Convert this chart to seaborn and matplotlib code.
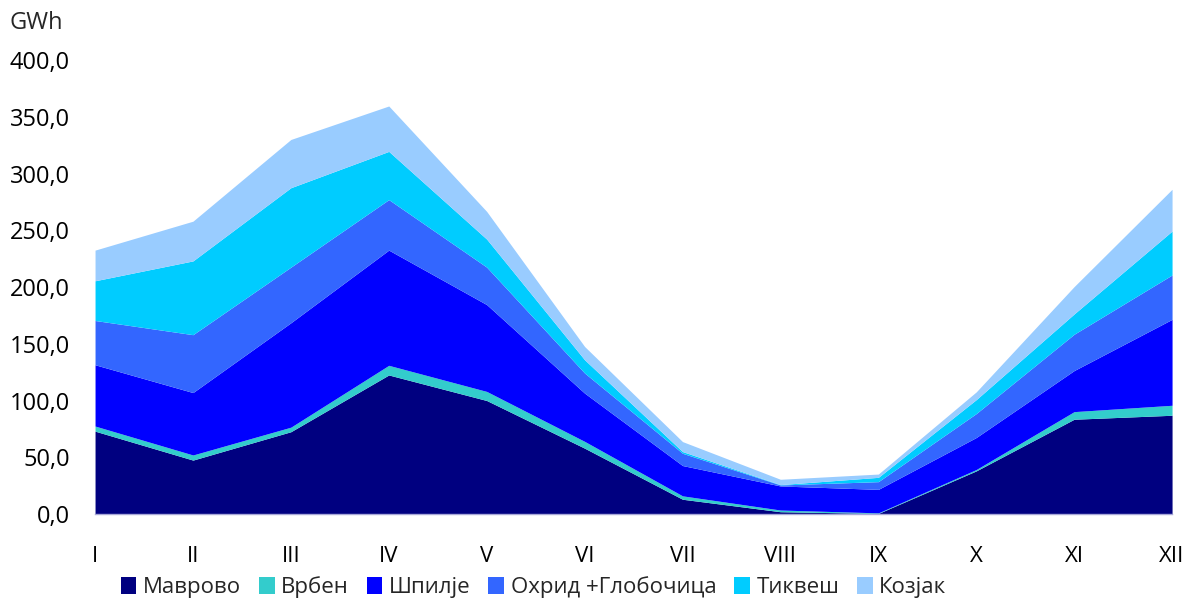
import numpy as np
import matplotlib
matplotlib.use("Agg")
import matplotlib.pyplot as plt
from matplotlib.patches import Patch
import seaborn as sns

# DATA (GWh per month)
months = ["I", "II", "III", "IV", "V", "VI", "VII", "VIII", "IX", "X", "XI", "XII"]
mavrovo = [73.0, 47.5, 72.5, 122.5, 100.0, 58.0, 13.0, 2.0, 0.5, 38.0, 83.5, 87.0]
vrben = [4.5, 4.5, 4.0, 8.5, 8.0, 6.0, 3.0, 1.5, 0.5, 1.2, 6.7, 8.8]
shpilje = [54.0, 55.0, 92.0, 101.5, 76.5, 42.5, 26.7, 21.2, 20.7, 28.2, 36.2, 75.7]
ohrid = [39.0, 51.0, 49.0, 44.5, 33.0, 17.7, 10.8, 0.9, 6.8, 21.1, 32.0, 39.1]
tikvesh = [35.0, 65.0, 70.0, 42.5, 24.7, 11.7, 1.5, 0.3, 3.8, 12.3, 17.9, 38.7]
kozjak = [27.0, 35.0, 42.5, 40.0, 24.4, 11.7, 8.8, 4.7, 2.9, 6.8, 24.1, 36.8]

series_names = ["Маврово", "Врбен", "Шпилје", "Охрид +Глобочица", "Тиквеш", "Козјак"]
colors = ["#000080", "#33CCCC", "#0000FF", "#3366FF", "#00CCFF", "#99CCFF"]

sns.set_style("white")
plt.rcParams["font.family"] = ["Open Sans", "DejaVu Sans"]

fig = plt.figure(figsize=(11.91, 5.99), dpi=100)
ax = fig.add_axes([0.0798, 0.1419, 0.9043, 0.7579])

x = np.arange(len(months))
ax.stackplot(x, mavrovo, vrben, shpilje, ohrid, tikvesh, kozjak,
             colors=sns.color_palette(colors), linewidth=0)

ax.set_xlim(0, len(months) - 1)
ax.set_ylim(0, 400)
ax.set_yticks(np.arange(0, 401, 50))
ax.set_yticklabels([f"{v:.1f}".replace(".", ",") for v in np.arange(0, 401, 50)])
ax.set_xticks(x)
ax.set_xticklabels(months)

for side in ["top", "right", "left"]:
    ax.spines[side].set_visible(False)
ax.spines["bottom"].set_color("#A8A8D8")
ax.spines["bottom"].set_linewidth(1)
ax.tick_params(axis="y", length=0, pad=18, labelsize=17, colors="black")
ax.tick_params(axis="x", length=3, color="#A8A8D8", pad=20, labelsize=16, colors="black")

fig.text(0.008, 0.962, "GWh", fontsize=17, va="center", ha="left")

handles = [Patch(facecolor=c, edgecolor="none") for c in colors]
fig.legend(handles, series_names, loc="center", bbox_to_anchor=(0.448, 0.02),
           ncol=6, frameon=False, fontsize=16, handlelength=0.7, handleheight=0.8,
           handletextpad=0.3, columnspacing=0.8, borderaxespad=0)

fig.savefig("out.png", dpi=100)
